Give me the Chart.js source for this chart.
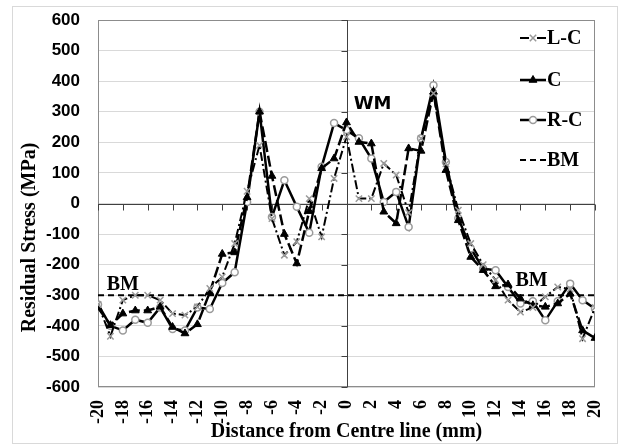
<!DOCTYPE html>
<html>
<head>
<meta charset="utf-8">
<script src="https://cdn.jsdelivr.net/npm/chart.js@4"></script>
<style>
  html, body { margin: 0; padding: 0; background: #fff; }
  #wrap { position: relative; width: 621px; height: 444px; }
  #frame { position: absolute; left: 12px; top: 6px; width: 604px; height: 436px; border: 1px solid #d9d9d9; }
  canvas { position: absolute; left: 0; top: 0; }
</style>
</head>
<body>
<div id="wrap">
  <div id="frame"></div>
  <canvas id="myChart" width="621" height="444"></canvas>
</div>
<script>
// distance from centre line (mm)
const distances = [-20, -19, -18, -17, -16, -15, -14, -13, -12, -11, -10, -9, -8, -7, -6, -5, -4, -3, -2, -1,
  0, 1, 2, 3, 4, 5, 6, 7, 8, 9, 10, 11, 12, 13, 14, 15, 16, 17, 18, 19, 20];

// residual stress (MPa)
const leftCentre = [-330, -434, -316, -300, -300, -316, -360, -365, -338, -278, -240, -131, 40, 190, -49, -169, -125, 16, -109, 82,
  218, 16, 16, 131, 93, -30, 213, 360, 130, -22, -131, -200, -250, -316, -355, -340, -305, -273, -280, -442, -340];
const centre = [-340, -398, -360, -350, -350, -338, -404, -425, -395, -290, -165, -160, 20, 300, 90, -100, -196, -25, 115, 147,
  265, 201, 196, -27, -65, 180, 172, 365, 109, -55, -175, -218, -271, -265, -311, -333, -338, -327, -295, -415, -440];
const rightCentre = [-330, -400, -415, -380, -390, -340, -410, -415, -340, -345, -260, -225, 5, 300, -44, 76, -11, -96, 120, 263,
  240, 213, 147, 5, 38, -77, 213, 387, 136, -48, -147, -213, -218, -273, -327, -320, -382, -320, -262, -316, -344];
const bmLevel = -300;

const xTickStep = 2;
const yTickStep = 100;

const serif = '"Liberation Serif", serif';
const sans = '"Liberation Sans", sans-serif';

function points(vals) {
  return distances.map(function(d, i) { return { x: d, y: vals[i] }; });
}

// frame, axes through zero, tick marks on them
const crossAxes = {
  id: 'crossAxes',
  beforeDatasetsDraw(chart) {
    const ctx = chart.ctx;
    const a = chart.chartArea;
    const x = chart.scales.x, y = chart.scales.y;
    ctx.save();
    ctx.lineWidth = 1;
    ctx.strokeStyle = '#8c8c8c';
    ctx.strokeRect(a.left + 0.5, a.top + 0.5, a.width - 1, a.height - 1);
    const x0 = Math.round(x.getPixelForValue(0)) + 0.5;
    const y0 = Math.round(y.getPixelForValue(0)) + 0.5;
    ctx.strokeStyle = '#404040';
    ctx.beginPath();
    ctx.moveTo(a.left, y0); ctx.lineTo(a.right, y0);
    ctx.moveTo(x0, a.top); ctx.lineTo(x0, a.bottom);
    x.ticks.forEach(function(t) {
      const px = Math.round(x.getPixelForValue(t.value)) + 0.5;
      ctx.moveTo(px, y0); ctx.lineTo(px, y0 + 6);
    });
    y.ticks.forEach(function(t) {
      const py = Math.round(y.getPixelForValue(t.value)) + 0.5;
      ctx.moveTo(x0 - 6, py); ctx.lineTo(x0, py);
    });
    ctx.stroke();
    ctx.restore();
  }
};

// y title (sits lower than the plot centre), WM / BM labels
const zoneLabels = {
  id: 'zoneLabels',
  afterDatasetsDraw(chart) {
    const ctx = chart.ctx;
    const a = chart.chartArea;
    const x = chart.scales.x, y = chart.scales.y;
    ctx.save();
    ctx.fillStyle = '#000';
    ctx.textAlign = 'center';
    ctx.textBaseline = 'middle';
    ctx.font = 'bold 18px "DejaVu Sans", sans-serif';
    ctx.fillText('WM', x.getPixelForValue(2.1), y.getPixelForValue(325));
    ctx.font = 'bold 20px ' + serif;
    ctx.fillText('BM', x.getPixelForValue(-18), y.getPixelForValue(-265));
    ctx.fillText('BM', x.getPixelForValue(14.9), y.getPixelForValue(-252));
    ctx.translate(30, (a.top + a.bottom) / 2 + 34);
    ctx.rotate(-Math.PI / 2);
    ctx.fillText('Residual Stress (MPa)', 0, 0);
    ctx.restore();
  }
};

// legend inside the plot, top right
const innerLegend = {
  id: 'innerLegend',
  afterDraw(chart) {
    const ctx = chart.ctx;
    const a = chart.chartArea;
    const lx = a.right - 75;
    const rows = [18, 60, 100, 140];
    ctx.save();
    chart.data.datasets.forEach(function(ds, i) {
      const ly = a.top + rows[i];
      ctx.strokeStyle = ds.borderColor;
      ctx.lineWidth = ds.borderWidth;
      ctx.setLineDash(ds.borderDash || []);
      ctx.beginPath();
      ctx.moveTo(lx, ly); ctx.lineTo(lx + 26, ly);
      ctx.stroke();
      ctx.setLineDash([]);
      if (ds.pointRadius > 0) {
        ctx.strokeStyle = ds.pointBorderColor;
        ctx.fillStyle = ds.pointBackgroundColor;
        ctx.lineWidth = ds.pointBorderWidth;
        Chart.helpers.drawPoint(ctx, { pointStyle: ds.pointStyle, radius: ds.pointRadius, rotation: 0, borderWidth: ds.pointBorderWidth }, lx + 13, ly);
      }
      ctx.fillStyle = '#000';
      ctx.font = 'bold 20px ' + serif;
      ctx.textAlign = 'left';
      ctx.textBaseline = 'middle';
      ctx.fillText(ds.label, lx + 27, ly + 1);
    });
    ctx.restore();
  }
};

const ctx = document.getElementById('myChart').getContext('2d');
const chart = new Chart(ctx, { // eslint-disable-line
  type: 'line',
  data: {
    datasets: [{
      label: 'L-C',
      data: points(leftCentre),
      borderColor: '#000',
      borderWidth: 2,
      borderDash: [9, 3, 2, 3],
      pointStyle: 'crossRot',
      pointRadius: 4.5,
      pointBorderColor: '#9a9a9a',
      pointBackgroundColor: '#9a9a9a',
      pointBorderWidth: 1.5
    },
    {
      label: 'C',
      data: points(centre),
      borderColor: '#000',
      borderWidth: 2.5,
      borderDash: [11, 4],
      pointStyle: 'triangle',
      pointRadius: 4.5,
      pointBorderColor: '#000',
      pointBackgroundColor: '#000',
      pointBorderWidth: 1
    },
    {
      label: 'R-C',
      data: points(rightCentre),
      borderColor: '#000',
      borderWidth: 2.5,
      pointStyle: 'circle',
      pointRadius: 3.5,
      pointBorderColor: '#9a9a9a',
      pointBackgroundColor: '#fff',
      pointBorderWidth: 1.5
    },
    {
      label: 'BM',
      data: [{ x: distances[0], y: bmLevel }, { x: distances[distances.length - 1], y: bmLevel }],
      borderColor: '#000',
      borderWidth: 2,
      borderDash: [6, 4],
      pointRadius: 0
    }]
  },
  options: {
    responsive: false,
    animation: false,
    layout: { padding: { top: 20, right: 26, left: 0, bottom: 0 } },
    plugins: {
      legend: { display: false },
      tooltip: { enabled: false }
    },
    scales: {
      x: {
        type: 'linear',
        min: -20,
        max: 20,
        afterFit: function(s) {
          s.height = 57;
          s.paddingLeft = 0;
          s.paddingRight = 0;
        },
        grid: { display: false, drawTicks: false },
        border: { display: false },
        ticks: {
          stepSize: xTickStep,
          autoSkip: false,
          minRotation: 90,
          maxRotation: 90,
          padding: 13,
          color: '#000',
          font: { family: serif, size: 18, weight: 'bold' }
        },
        title: {
          display: true,
          text: 'Distance from Centre line (mm)',
          color: '#000',
          font: { family: serif, size: 20, weight: 'bold' },
          padding: { top: 0, bottom: 0 }
        }
      },
      y: {
        min: -600,
        max: 600,
        afterFit: function(s) {
          s.width = 98;
          s.paddingTop = 0;
          s.paddingBottom = 0;
        },
        grid: { color: '#d9d9d9', drawTicks: false },
        border: { display: false },
        ticks: {
          stepSize: yTickStep,
          padding: 18,
          color: '#000',
          font: { family: sans, size: 17, weight: 'bold' }
        }
      }
    }
  },
  plugins: [crossAxes, zoneLabels, innerLegend]
});
</script>
</body>
</html>
